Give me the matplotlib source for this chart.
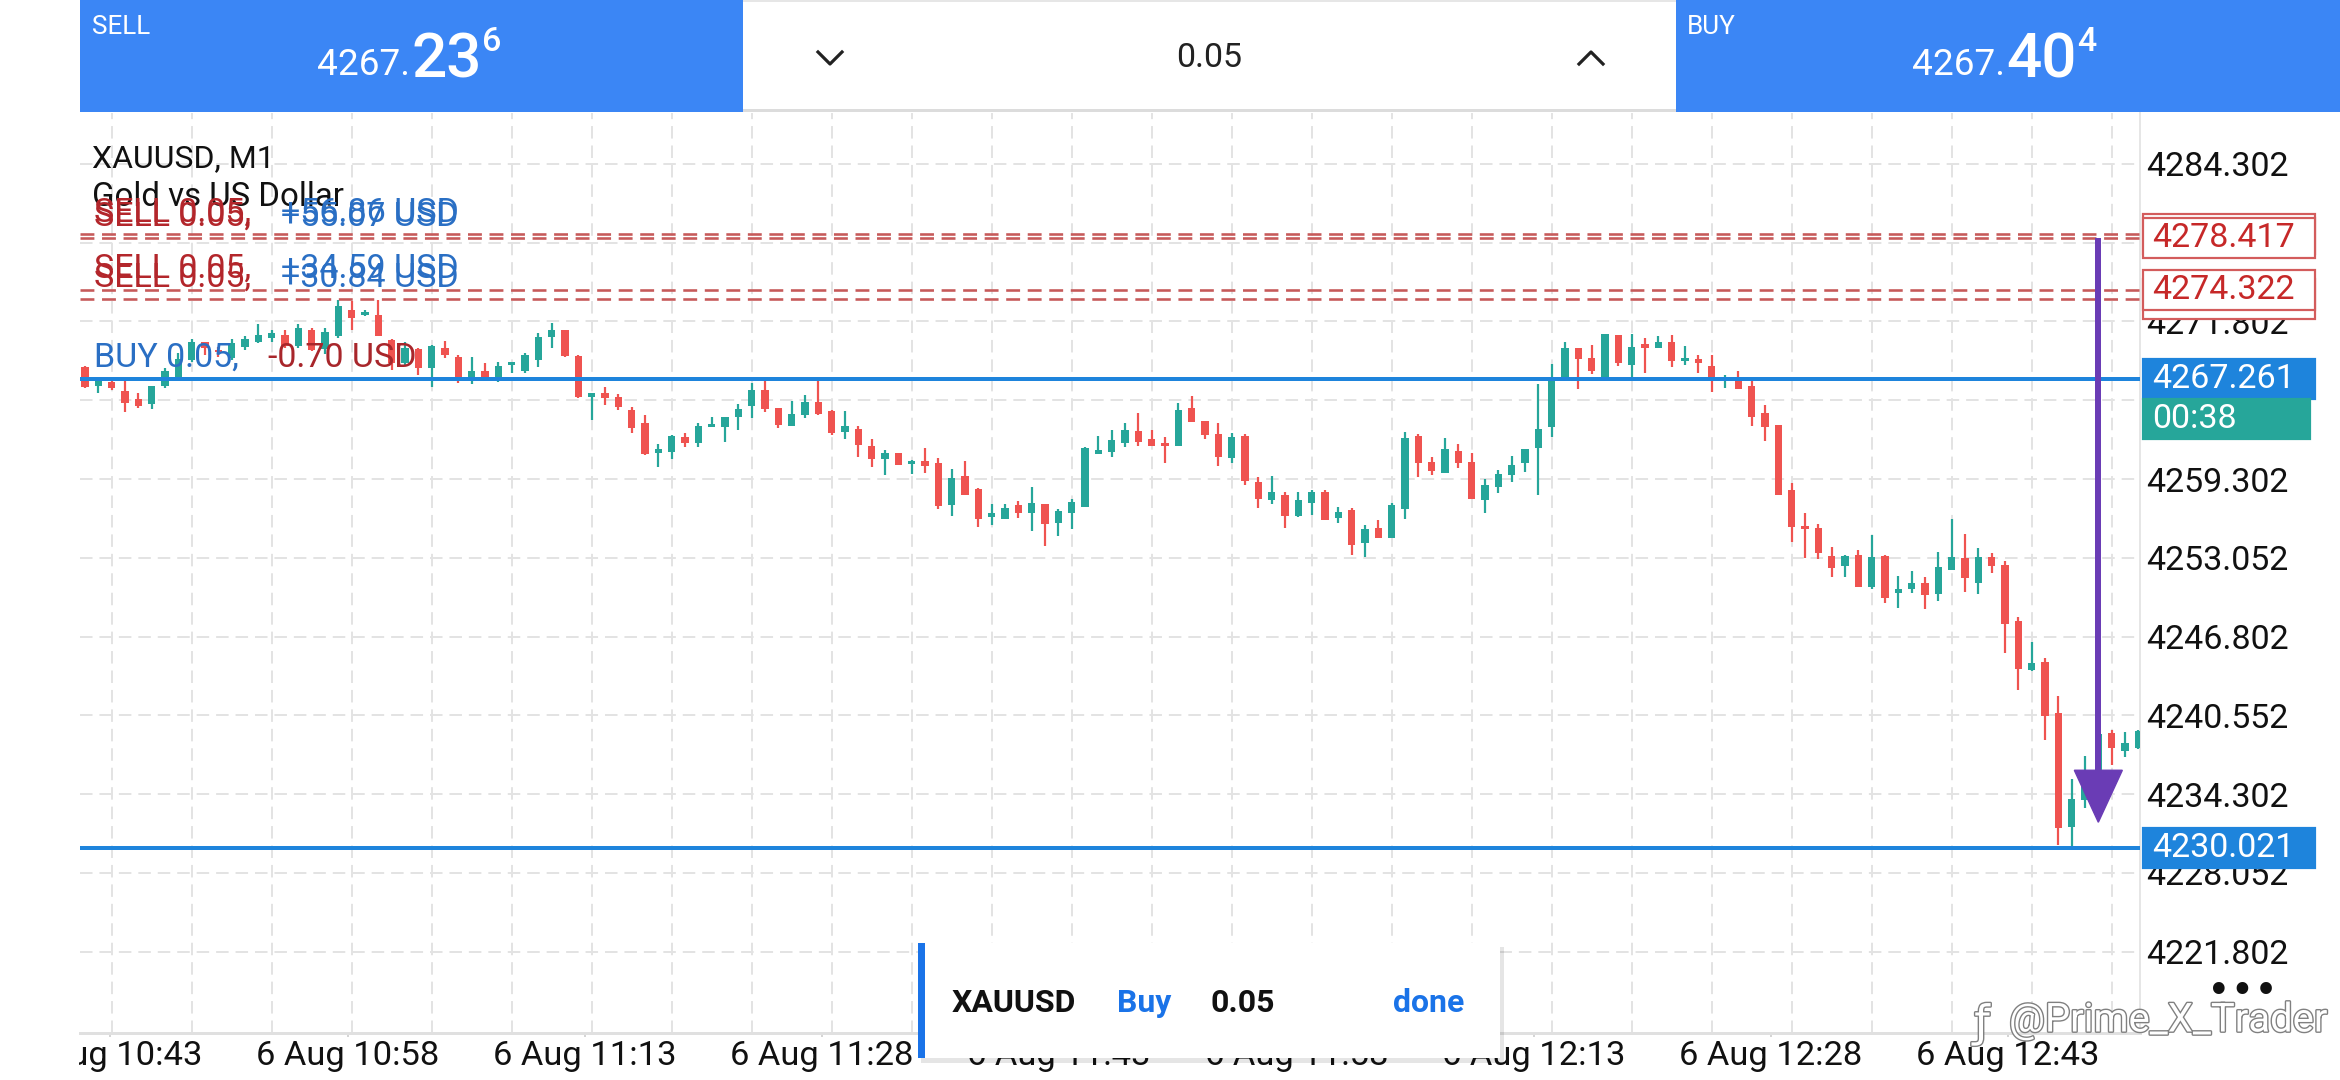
import numpy as np
import matplotlib
matplotlib.use("Agg")
import matplotlib.pyplot as plt
from matplotlib.patches import Rectangle, Polygon
from matplotlib.lines import Line2D
from matplotlib.transforms import Affine2D
from matplotlib.ticker import FixedLocator
import matplotlib.patheffects as pe

plt.rcParams['font.family'] = ['Roboto', 'DejaVu Sans']
plt.rcParams['lines.scale_dashes'] = False

# ---------------- data ----------------
opens = [4268.17, 4266.70, 4267.00, 4266.32, 4265.66, 4265.26, 4266.69, 4267.43, 4268.76, 4270.21,
         4269.40, 4268.89, 4269.74, 4270.21, 4270.48, 4270.74, 4269.87, 4271.09, 4269.60, 4270.61,
         4272.73, 4272.34, 4272.33, 4270.35, 4268.49, 4269.60, 4268.10, 4269.68, 4269.02, 4267.38,
         4267.91, 4267.22, 4268.35, 4267.91, 4268.76, 4270.56, 4271.09, 4269.08, 4265.79, 4266.11,
         4265.79, 4264.78, 4263.78, 4261.34, 4261.47, 4262.61, 4262.14, 4263.45, 4263.40, 4264.25,
         4265.10, 4266.37, 4264.92, 4263.51, 4264.39, 4265.45, 4264.73, 4263.06, 4263.25, 4261.93,
         4260.86, 4261.40, 4260.47, 4260.73, 4260.60, 4257.24, 4259.54, 4258.48, 4256.26, 4256.12,
         4257.24, 4256.63, 4257.32, 4255.83, 4256.63, 4257.05, 4261.29, 4261.47, 4262.19, 4263.12,
         4262.48, 4262.00, 4261.93, 4264.92, 4263.91, 4262.88, 4261.00, 4262.75, 4259.09, 4257.63,
         4258.03, 4256.36, 4257.42, 4258.30, 4256.18, 4256.84, 4254.19, 4255.38, 4254.59, 4256.89,
         4262.72, 4260.68, 4259.75, 4261.55, 4260.68, 4257.63, 4258.64, 4259.62, 4260.55, 4261.74,
         4263.41, 4267.38, 4269.68, 4268.89, 4267.43, 4270.74, 4268.36, 4270.03, 4269.68, 4270.21,
         4268.70, 4268.84, 4268.28, 4267.17, 4267.22, 4266.69, 4264.57, 4263.59, 4258.43, 4255.57,
         4255.38, 4253.18, 4252.39, 4253.26, 4250.75, 4253.18, 4250.22, 4250.54, 4251.07, 4250.17,
         4252.07, 4253.00, 4251.07, 4253.08, 4252.47, 4248.05, 4244.18, 4244.79, 4240.74, 4231.68,
         4233.80, 4235.80, 4239.15, 4237.72, 4237.98]
highs = [4268.28, 4267.30, 4267.20, 4267.17, 4266.11, 4266.72, 4268.09, 4269.29, 4270.40, 4270.21,
         4269.80, 4270.40, 4270.61, 4271.62, 4271.14, 4271.14, 4271.62, 4271.27, 4271.27, 4273.52,
         4273.39, 4272.73, 4273.47, 4270.40, 4270.21, 4269.68, 4269.95, 4270.29, 4269.15, 4269.02,
         4268.49, 4268.62, 4268.54, 4269.29, 4270.88, 4271.67, 4271.14, 4269.15, 4266.11, 4266.58,
         4266.05, 4265.05, 4264.39, 4262.08, 4262.80, 4262.98, 4263.78, 4264.20, 4264.25, 4265.26,
         4266.90, 4267.22, 4264.92, 4265.52, 4265.98, 4267.04, 4264.78, 4264.73, 4263.51, 4262.45,
         4261.60, 4261.40, 4260.81, 4261.74, 4260.94, 4260.07, 4260.73, 4258.56, 4257.32, 4257.32,
         4257.58, 4258.69, 4257.32, 4256.89, 4257.69, 4261.87, 4262.72, 4263.20, 4263.73, 4264.57,
         4263.20, 4262.61, 4265.31, 4265.90, 4263.91, 4263.73, 4262.98, 4262.88, 4259.49, 4259.54,
         4258.30, 4258.30, 4258.43, 4258.43, 4257.10, 4256.97, 4255.65, 4256.05, 4257.37, 4263.06,
         4262.88, 4261.02, 4262.53, 4262.08, 4261.40, 4259.28, 4260.02, 4261.13, 4261.66, 4266.85,
         4268.44, 4270.21, 4269.68, 4269.95, 4270.82, 4270.74, 4270.82, 4270.48, 4270.61, 4270.74,
         4269.82, 4269.15, 4269.15, 4267.56, 4267.91, 4267.30, 4265.18, 4263.59, 4258.96, 4256.57,
         4255.73, 4253.93, 4253.26, 4253.66, 4254.85, 4253.26, 4251.60, 4252.02, 4251.49, 4253.53,
         4256.10, 4254.93, 4253.85, 4253.45, 4252.81, 4248.36, 4246.38, 4245.13, 4242.06, 4235.52,
         4237.30, 4239.10, 4239.36, 4239.23, 4239.40]
lows = [4266.50, 4266.15, 4266.40, 4264.60, 4264.92, 4264.84, 4266.51, 4267.43, 4268.62, 4269.15,
        4269.00, 4268.76, 4269.55, 4270.08, 4270.21, 4269.68, 4269.68, 4269.42, 4269.23, 4270.48,
        4271.09, 4272.20, 4270.61, 4267.96, 4268.23, 4267.56, 4266.64, 4268.89, 4266.90, 4266.85,
        4267.04, 4266.96, 4267.70, 4267.75, 4268.17, 4269.68, 4268.97, 4265.71, 4263.99, 4265.18,
        4264.78, 4262.98, 4261.21, 4260.28, 4260.86, 4261.87, 4261.87, 4263.40, 4262.27, 4263.20,
        4264.12, 4264.65, 4263.33, 4263.51, 4264.12, 4264.39, 4262.80, 4262.45, 4261.08, 4260.28,
        4259.62, 4260.41, 4259.70, 4259.80, 4256.89, 4256.36, 4258.03, 4255.52, 4255.65, 4256.12,
        4256.18, 4255.20, 4253.98, 4254.77, 4255.30, 4257.05, 4261.29, 4261.08, 4261.82, 4261.93,
        4261.93, 4260.55, 4261.93, 4263.86, 4262.45, 4260.34, 4260.60, 4258.83, 4256.97, 4257.32,
        4255.38, 4256.31, 4256.44, 4256.04, 4255.83, 4253.26, 4253.13, 4254.59, 4254.59, 4256.10,
        4259.43, 4259.62, 4259.75, 4260.15, 4257.69, 4256.63, 4258.16, 4259.09, 4259.88, 4258.03,
        4262.61, 4267.38, 4266.43, 4267.64, 4267.43, 4268.23, 4267.43, 4267.70, 4269.68, 4268.17,
        4268.36, 4267.70, 4266.24, 4266.51, 4266.43, 4263.51, 4262.35, 4258.03, 4254.33, 4253.00,
        4252.92, 4251.49, 4251.54, 4250.75, 4250.60, 4249.48, 4249.10, 4250.22, 4248.95, 4249.64,
        4252.07, 4250.35, 4250.17, 4251.81, 4245.50, 4242.54, 4244.07, 4238.62, 4230.30, 4230.22,
        4233.20, 4235.00, 4236.58, 4237.24, 4237.90]
closes = [4266.58, 4267.25, 4266.50, 4265.37, 4265.10, 4266.72, 4267.91, 4268.81, 4270.21, 4269.68,
          4269.35, 4270.08, 4270.40, 4270.74, 4270.87, 4269.82, 4271.27, 4269.55, 4270.93, 4273.05,
          4272.07, 4272.54, 4270.66, 4268.49, 4269.68, 4268.10, 4269.82, 4269.15, 4267.22, 4267.91,
          4267.30, 4268.28, 4268.40, 4269.15, 4270.56, 4271.09, 4269.08, 4265.79, 4266.11, 4265.71,
          4265.05, 4263.33, 4261.29, 4261.66, 4262.72, 4262.14, 4263.51, 4263.51, 4264.20, 4264.84,
          4266.37, 4264.84, 4263.59, 4264.47, 4265.45, 4264.47, 4262.93, 4263.51, 4262.00, 4260.86,
          4261.34, 4260.41, 4260.73, 4260.36, 4257.16, 4259.36, 4258.03, 4256.12, 4256.57, 4256.97,
          4256.63, 4257.42, 4255.73, 4256.79, 4257.50, 4261.74, 4261.61, 4262.40, 4263.20, 4262.27,
          4261.93, 4261.93, 4264.78, 4263.86, 4262.80, 4261.08, 4262.66, 4259.17, 4257.69, 4258.30,
          4256.36, 4257.63, 4258.24, 4256.04, 4256.71, 4254.06, 4255.30, 4254.59, 4257.24, 4262.53,
          4260.60, 4259.97, 4261.66, 4260.55, 4257.69, 4258.82, 4259.67, 4260.41, 4261.66, 4263.25,
          4267.38, 4269.68, 4268.81, 4267.91, 4270.82, 4268.49, 4269.76, 4269.68, 4270.21, 4268.70,
          4268.89, 4268.49, 4267.30, 4267.35, 4266.43, 4264.20, 4263.46, 4258.03, 4255.52, 4255.30,
          4253.45, 4252.28, 4253.18, 4250.75, 4253.08, 4249.90, 4250.54, 4251.07, 4250.09, 4252.33,
          4253.08, 4251.41, 4253.08, 4252.39, 4247.83, 4244.26, 4244.71, 4240.47, 4231.63, 4233.93,
          4235.50, 4239.04, 4237.98, 4238.35, 4239.31]

price_ticks = [4221.802, 4228.052, 4234.302, 4240.552, 4246.802, 4253.052,
               4259.302, 4265.552, 4271.802, 4278.052, 4284.302]
time_labels = ["6 Aug 10:43", "6 Aug 10:58", "6 Aug 11:13", "6 Aug 11:28", "6 Aug 11:43",
               "6 Aug 11:58", "6 Aug 12:13", "6 Aug 12:28", "6 Aug 12:43"]
first_time_tick = 1.9      # candle index of first time label
time_tick_step = 17.79     # candles between time labels
grid_every = 6             # candles between vertical grid lines

sell_prices = [4278.776, 4278.417, 4273.572, 4274.322]
sell_texts = ["SELL 0.05,", "SELL 0.05,", "SELL 0.05,", "SELL 0.05,"]
sell_profits = ["+56.86 USD", "+55.07 USD", "+30.84 USD", "+34.59 USD"]
buy_price = 4267.261
buy_text = "BUY 0.05,"
buy_profit = "-0.70 USD"
low_price = 4230.021
timer_text = "00:38"

bid_main, bid_big, bid_sup = "4267.", "23", "6"
ask_main, ask_big, ask_sup = "4267.", "40", "4"
volume_text = "0.05"

arrow_x = 151
arrow_from = 4278.417
arrow_to = 4232.07

# ---------------- figure ----------------
W, H = 2340, 1080
PT = 0.72  # points per pixel at dpi 100
fig = plt.figure(figsize=(W / 100, H / 100), dpi=100)
fig.patch.set_facecolor("white")
T = Affine2D().scale(1 / W, -1 / H).translate(0, 1) + fig.transFigure

AX_L, AX_R, AX_T, AX_B = 80, 2140, 113, 1033
ax = fig.add_axes([AX_L / W, 1 - AX_B / H, (AX_R - AX_L) / W, (AX_B - AX_T) / H])
ymin, ymax = 4215.35, 4288.34
n = len(opens)
xmin, xmax = -0.375, n - 0.875
ax.set_xlim(xmin, xmax)
ax.set_ylim(ymin, ymax)
ppu = (AX_B - AX_T) / (ymax - ymin)   # pixels per price unit
ppc = (AX_R - AX_L) / (xmax - xmin)   # pixels per candle

RED, TEAL = "#ef5350", "#26a69a"
GRID = "#e3e3e3"
BLUE_LINE = "#1e84dc"

# grid
ax.set_yticks(price_ticks)
ax.set_yticklabels([f"{v:.3f}" for v in price_ticks])
ax.yaxis.tick_right()
ax.xaxis.set_minor_locator(FixedLocator(np.arange(2, n, grid_every)))
ax.grid(axis="y", which="major", color=GRID, lw=2 * PT, ls=(0, (9, 5)))
ax.grid(axis="x", which="minor", color=GRID, lw=2 * PT, ls=(0, (9, 5)))
ax.set_axisbelow(True)

tick_pos = [first_time_tick + k * time_tick_step for k in range(len(time_labels))]
ax.set_xticks(tick_pos)
ax.set_xticklabels(time_labels)
ax.tick_params(axis="x", which="major", length=4 * PT, width=2 * PT, color="#d5d5d5",
               pad=3 * PT, labelsize=34.5 * PT, labelcolor="#111111")
ax.tick_params(axis="x", which="minor", length=0)
ax.tick_params(axis="y", length=0, pad=6 * PT, labelsize=34 * PT, labelcolor="#111111")

for s in ["top", "left"]:
    ax.spines[s].set_visible(False)
ax.spines["right"].set_color("#e6e6e6")
ax.spines["right"].set_linewidth(2 * PT)
ax.spines["bottom"].set_color("#e0e0e0")
ax.spines["bottom"].set_linewidth(3 * PT)

# candles
O = np.array(opens); Hh = np.array(highs); L = np.array(lows); C = np.array(closes)
idx = np.arange(n)
up = C >= O
cols = np.where(up, TEAL, RED)
ax.vlines(idx, np.minimum(L, np.minimum(O, C)), np.maximum(Hh, np.maximum(O, C)),
          colors=cols, lw=2.2 * PT, zorder=3)
body_min = 2.5 / ppu
ax.bar(idx, np.maximum(np.abs(C - O), body_min), bottom=np.minimum(O, C),
       width=0.55, color=cols, linewidth=0, zorder=3)

# order lines
for p in sell_prices:
    ax.axhline(p, color="#c65a5a", lw=2.6 * PT, ls=(0, (10, 5.5)), zorder=4)
ax.axhline(buy_price, color=BLUE_LINE, lw=4 * PT, zorder=4)
ax.axhline(low_price, color=BLUE_LINE, lw=4 * PT, zorder=4)

# line labels
ytr = ax.get_yaxis_transform()
lx0 = (94 - AX_L) / (AX_R - AX_L)
lx1 = (281 - AX_L) / (AX_R - AX_L)
lx1b = (268 - AX_L) / (AX_R - AX_L)
LBL = 34 * PT
for p, t, pr in zip(sell_prices, sell_texts, sell_profits):
    ax.annotate(t, xy=(lx0, p), xycoords=ytr, xytext=(0, 21 * PT), textcoords="offset points",
                va="center", ha="left", color="#b3262b", fontsize=LBL, zorder=6)
    ax.annotate(pr, xy=(lx1, p), xycoords=ytr, xytext=(0, 21 * PT), textcoords="offset points",
                va="center", ha="left", color="#2a6fc4", fontsize=LBL, zorder=6)
ax.annotate(buy_text, xy=(lx0, buy_price), xycoords=ytr, xytext=(0, 21 * PT),
            textcoords="offset points", va="center", ha="left", color="#2a6fc4",
            fontsize=LBL, zorder=6)
ax.annotate(buy_profit, xy=(lx1b, buy_price), xycoords=ytr, xytext=(0, 21 * PT),
            textcoords="offset points", va="center", ha="left", color="#a8262b",
            fontsize=LBL, zorder=6)

# chart title
ax.text(lx0 - 2 / (AX_R - AX_L), 1 - (159 - AX_T) / (AX_B - AX_T), "XAUUSD, M1",
        transform=ax.transAxes, va="center", ha="left", fontsize=32 * PT,
        color="#111111", zorder=5)
ax.text(lx0 - 2 / (AX_R - AX_L), 1 - (197 - AX_T) / (AX_B - AX_T), "Gold vs US Dollar",
        transform=ax.transAxes, va="center", ha="left", fontsize=33 * PT,
        color="#111111", zorder=5)

# arrow
head_len = 52 / ppu
head_hw = 24 / ppc
ax.plot([arrow_x, arrow_x], [arrow_from, arrow_to + head_len], color="#6a3cb5",
        lw=6 * PT, solid_capstyle="butt", zorder=8)
ax.add_patch(Polygon([(arrow_x - head_hw, arrow_to + head_len),
                      (arrow_x + head_hw, arrow_to + head_len),
                      (arrow_x, arrow_to)], closed=True, color="#6a3cb5", zorder=8))

# price boxes on the right axis
bx0 = (2143 - AX_L) / (AX_R - AX_L)
bw = (2315 - 2143) / (AX_R - AX_L)
tx = (2152 - AX_L) / (AX_R - AX_L)
box_h = 40 / ppu


def price_box(center, text, face, edge, tcolor, z, width=bw):
    ax.add_patch(Rectangle((bx0, center - box_h / 2), width, box_h, transform=ytr,
                           facecolor=face, edgecolor=edge, lw=2.2 * PT, clip_on=False, zorder=z))
    ax.text(tx, center, text, transform=ytr, va="center", ha="left", color=tcolor,
            fontsize=34 * PT, clip_on=False, zorder=z + 0.1)


z = 10
for p in sell_prices:
    price_box(p, f"{p:.3f}", "white", "#d35c5c", "#c62828", z)
    z += 1
price_box(buy_price, f"{buy_price:.3f}", BLUE_LINE, BLUE_LINE, "white", z)
price_box(buy_price - box_h, timer_text, TEAL, TEAL, "white", z, width=(2310 - 2143) / (AX_R - AX_L))
price_box(low_price, f"{low_price:.3f}", BLUE_LINE, BLUE_LINE, "white", z)


# ---------------- figure-level UI ----------------
def frect(x0, y0, x1, y1, **kw):
    fig.add_artist(Rectangle((x0, y0), x1 - x0, y1 - y0, transform=T, **kw))


def ftext(x, y, s, **kw):
    kw.setdefault("zorder", 12)
    fig.text(x, y, s, transform=T, **kw)


# top bar
TOPBLUE = "#3b86f5"
frect(80, 0, 743, 112, color=TOPBLUE, lw=0, zorder=10)
frect(1676, 0, 2340, 112, color=TOPBLUE, lw=0, zorder=10)
frect(743, 109, 1676, 112, color="#dcdcdc", lw=0, zorder=10)
frect(743, 0, 1676, 2, color="#e6e6e6", lw=0, zorder=10)

ftext(92, 27, "SELL", color="white", fontsize=26 * PT, va="center", ha="left")
ftext(410, 75, bid_main, color="white", fontsize=37 * PT, va="baseline", ha="right")
ftext(411, 77, bid_big, color="white", fontsize=62 * PT, va="baseline", ha="left",
      fontweight="medium")
ftext(482, 51, bid_sup, color="white", fontsize=34 * PT, va="baseline", ha="left",
      fontweight="medium")

ftext(1687, 27, "BUY", color="white", fontsize=26 * PT, va="center", ha="left")
ftext(2005, 75, ask_main, color="white", fontsize=37 * PT, va="baseline", ha="right")
ftext(2006, 77, ask_big, color="white", fontsize=62 * PT, va="baseline", ha="left",
      fontweight="medium")
ftext(2077, 51, ask_sup, color="white", fontsize=34 * PT, va="baseline", ha="left",
      fontweight="medium")

ftext(1209, 58, volume_text, color="#222222", fontsize=34 * PT, va="center", ha="center")
fig.add_artist(Line2D([818, 830, 842], [52, 64, 52], transform=T, color="#222222",
                      lw=3.2 * PT, zorder=12))
fig.add_artist(Line2D([1579, 1591, 1603], [64, 52, 64], transform=T, color="#222222",
                      lw=3.2 * PT, zorder=12))

# mask left of the time axis
frect(0, 1034, 79, 1080, color="white", lw=0, zorder=9)

# notification toast
frect(921, 947, 1504, 1063, color=(0, 0, 0, 0.10), lw=0, zorder=10)
frect(918, 943, 1500, 1058, color="white", lw=0, zorder=10)
frect(918, 943, 925, 1058, color="#1a73e8", lw=0, zorder=11)
ftext(952, 1003, "XAUUSD", color="#111111", fontsize=32 * PT, fontweight="bold",
      va="center", ha="left")
ftext(1117, 1003, "Buy", color="#1a73e8", fontsize=32 * PT, fontweight="bold",
      va="center", ha="left")
ftext(1210, 1003, volume_text, color="#111111", fontsize=32 * PT, fontweight="bold",
      va="center", ha="left")
ftext(1393, 1003, "done", color="#1a73e8", fontsize=32 * PT, fontweight="bold",
      va="center", ha="left")

# dots and watermark
ftext(2242, 992, "•••", color="#111111", fontsize=40 * PT, va="center", ha="center",
      family="DejaVu Sans")
stroke = [pe.withStroke(linewidth=2.0, foreground="#808080")]
ftext(2009, 1020, "@Prime_X_Trader", color="white", fontsize=40 * PT, va="center",
      ha="left", path_effects=stroke)
ftext(1982, 1024, "ƒ", color="white", fontsize=44 * PT, va="center", ha="center",
      path_effects=stroke, family=["DejaVu Sans"])

fig.savefig("out.png", dpi=100, facecolor="white")
